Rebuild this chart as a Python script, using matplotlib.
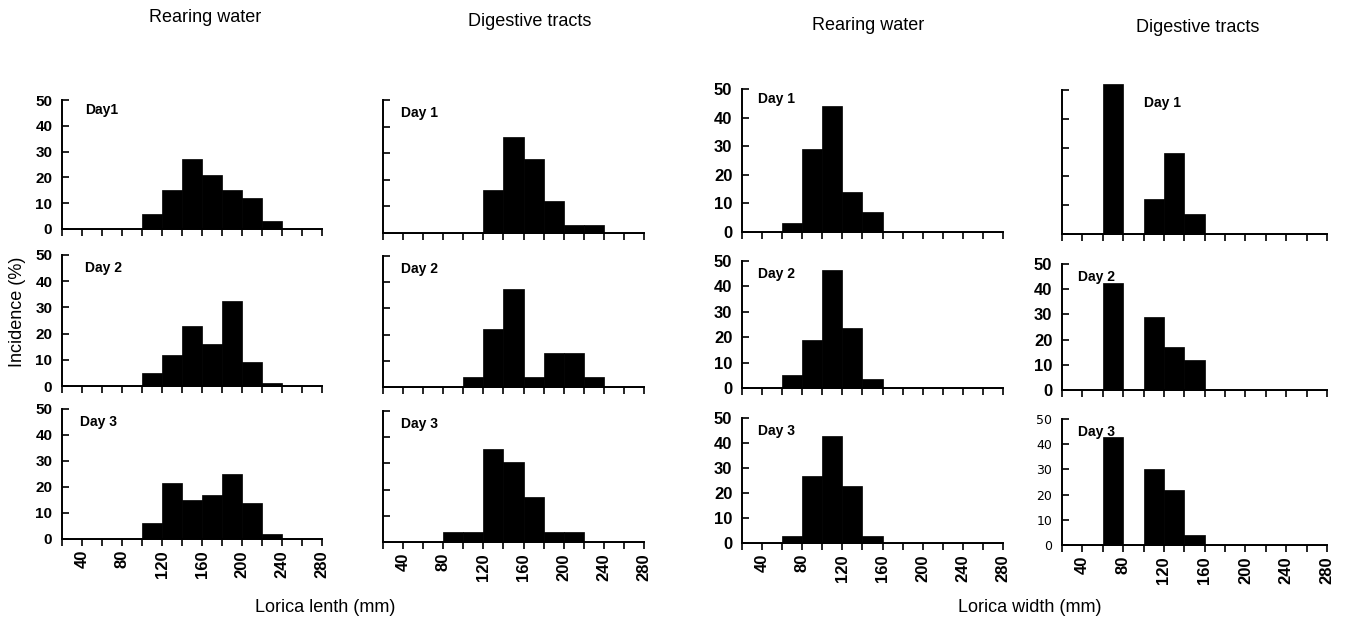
import numpy as np
import matplotlib
matplotlib.use("Agg")
import matplotlib.pyplot as plt

plt.rcParams['font.family'] = ['Liberation Sans', 'DejaVu Sans']

# ---- data (bin left edges, width 20) ----
bin_left = [20, 40, 60, 80, 100, 120, 140, 160, 180, 200, 220, 240, 260]
x_ticks = [20, 40, 60, 80, 100, 120, 140, 160, 180, 200, 220, 240, 260, 280]
y_ticks = [0, 10, 20, 30, 40, 50]
days = ["Day 1", "Day 2", "Day 3"]
col_titles = ["Rearing water", "Digestive tracts", "Rearing water", "Digestive tracts"]

len_rw_d1 = [0, 0, 0, 0, 6, 15, 27, 21, 15, 12, 3, 0, 0]
len_rw_d2 = [0, 0, 0, 0, 5, 12, 23, 16, 32.5, 9, 1, 0, 0]
len_rw_d3 = [0, 0, 0, 0, 6, 21.5, 15, 17, 25, 14, 2, 0, 0]
len_dt_d1 = [0, 0, 0, 0, 0, 16, 36, 28, 12, 3, 3, 0, 0]
len_dt_d2 = [0, 0, 0, 0, 4, 22, 37.5, 4, 13, 13, 4, 0, 0]
len_dt_d3 = [0, 0, 0, 4, 4, 35.5, 30.5, 17, 4, 4, 0, 0, 0]
wid_rw_d1 = [0, 0, 3, 29, 44, 14, 7, 0, 0, 0, 0, 0, 0]
wid_rw_d2 = [0, 0, 5, 19, 46.5, 23.5, 3.5, 0, 0, 0, 0, 0, 0]
wid_rw_d3 = [0, 0, 3, 27, 43, 23, 3, 0, 0, 0, 0, 0, 0]
wid_dt_d1 = [0, 0, 52, 0, 12, 28, 7, 0, 0, 0, 0, 0, 0]
wid_dt_d2 = [0, 0, 42.5, 0, 29, 17, 12, 0, 0, 0, 0, 0, 0]
wid_dt_d3 = [0, 0, 43, 0, 30, 22, 4, 0, 0, 0, 0, 0, 0]

columns = [
    [len_rw_d1, len_rw_d2, len_rw_d3],
    [len_dt_d1, len_dt_d2, len_dt_d3],
    [wid_rw_d1, wid_rw_d2, wid_rw_d3],
    [wid_dt_d1, wid_dt_d2, wid_dt_d3],
]

# ---- layout (pixels) ----
W, H = 1350, 620
col_x = [(62, 322), (383, 644), (742, 1003), (1062, 1327)]
row_y = [
    [(100, 229), (255, 386), (409, 539)],
    [(100, 233), (256, 387), (411, 542)],
    [(89, 232), (261, 388), (418, 543)],
    [(90, 234), (264, 390), (419, 545)],
]
day_pos = [
    [(0.09, 0.92), (0.09, 0.90), (0.07, 0.90)],
    [(0.07, 0.90), (0.07, 0.90), (0.07, 0.90)],
    [(0.06, 0.93), (0.06, 0.90), (0.06, 0.90)],
    [(0.31, 0.91), (0.06, 0.90), (0.06, 0.90)],
]
day_text = [
    ["Day1", "Day 2", "Day 3"],
    days, days, days,
]
show_ylabels = [
    [True, True, True],
    [False, False, False],
    [True, True, True],
    [False, True, True],
]
ylabel_size = [11, 11, 12, 12]

fig = plt.figure(figsize=(W / 100, H / 100), dpi=100)

for c in range(4):
    x0, x1 = col_x[c]
    for r in range(3):
        ytop, ybot = row_y[c][r]
        ax = fig.add_axes([x0 / W, 1 - ybot / H, (x1 - x0) / W, (ybot - ytop) / H])
        ax.bar(bin_left, columns[c][r], width=20, align='edge', color='black',
               edgecolor='black', linewidth=0.5, clip_on=False)
        ax.set_xlim(20, 280)
        ax.set_ylim(0, 50)
        for s in ['top', 'right']:
            ax.spines[s].set_visible(False)
        for s in ['left', 'bottom']:
            ax.spines[s].set_linewidth(1.4)
        ax.spines['left'].set_bounds(0, 50)
        ax.set_xticks(x_ticks)
        ax.set_yticks(y_ticks)
        ax.tick_params(axis='y', direction='in', length=5, width=1.2, pad=7,
                       labelsize=ylabel_size[c])
        ax.tick_params(axis='x', direction='out', length=5, width=1.2, pad=3,
                       labelsize=12)
        if r == 2:
            ax.set_xticklabels([str(v) if v % 40 == 0 else "" for v in x_ticks],
                               rotation=90, fontweight='bold')
        else:
            ax.set_xticklabels([])
        if show_ylabels[c][r]:
            ax.set_yticklabels([str(v) for v in y_ticks], fontweight='bold')
            if c == 3 and r == 2:
                for t in ax.get_yticklabels():
                    t.set_fontfamily('DejaVu Sans')
                    t.set_fontweight('normal')
                    t.set_fontsize(9)
        else:
            ax.set_yticklabels([])
        dx, dy = day_pos[c][r]
        ax.text(dx, dy, day_text[c][r], transform=ax.transAxes, fontsize=10,
                fontweight='bold', ha='left', va='center')

# column titles
title_pos = [(205, 18), (530, 22), (868, 25), (1198, 28)]
for (tx, ty), t in zip(title_pos, col_titles):
    fig.text(tx / W, 1 - ty / H, t, ha='center', va='center', fontsize=13)

fig.text(325 / W, 1 - 608 / H, "Lorica lenth (mm)", ha='center', va='center', fontsize=13)
fig.text(1030 / W, 1 - 607 / H, "Lorica width (mm)", ha='center', va='center', fontsize=13)
fig.text(18 / W, 1 - 312 / H, "Incidence (%)", ha='center', va='center',
         rotation=90, fontsize=13)

fig.savefig("out.png", dpi=100, facecolor='white')
